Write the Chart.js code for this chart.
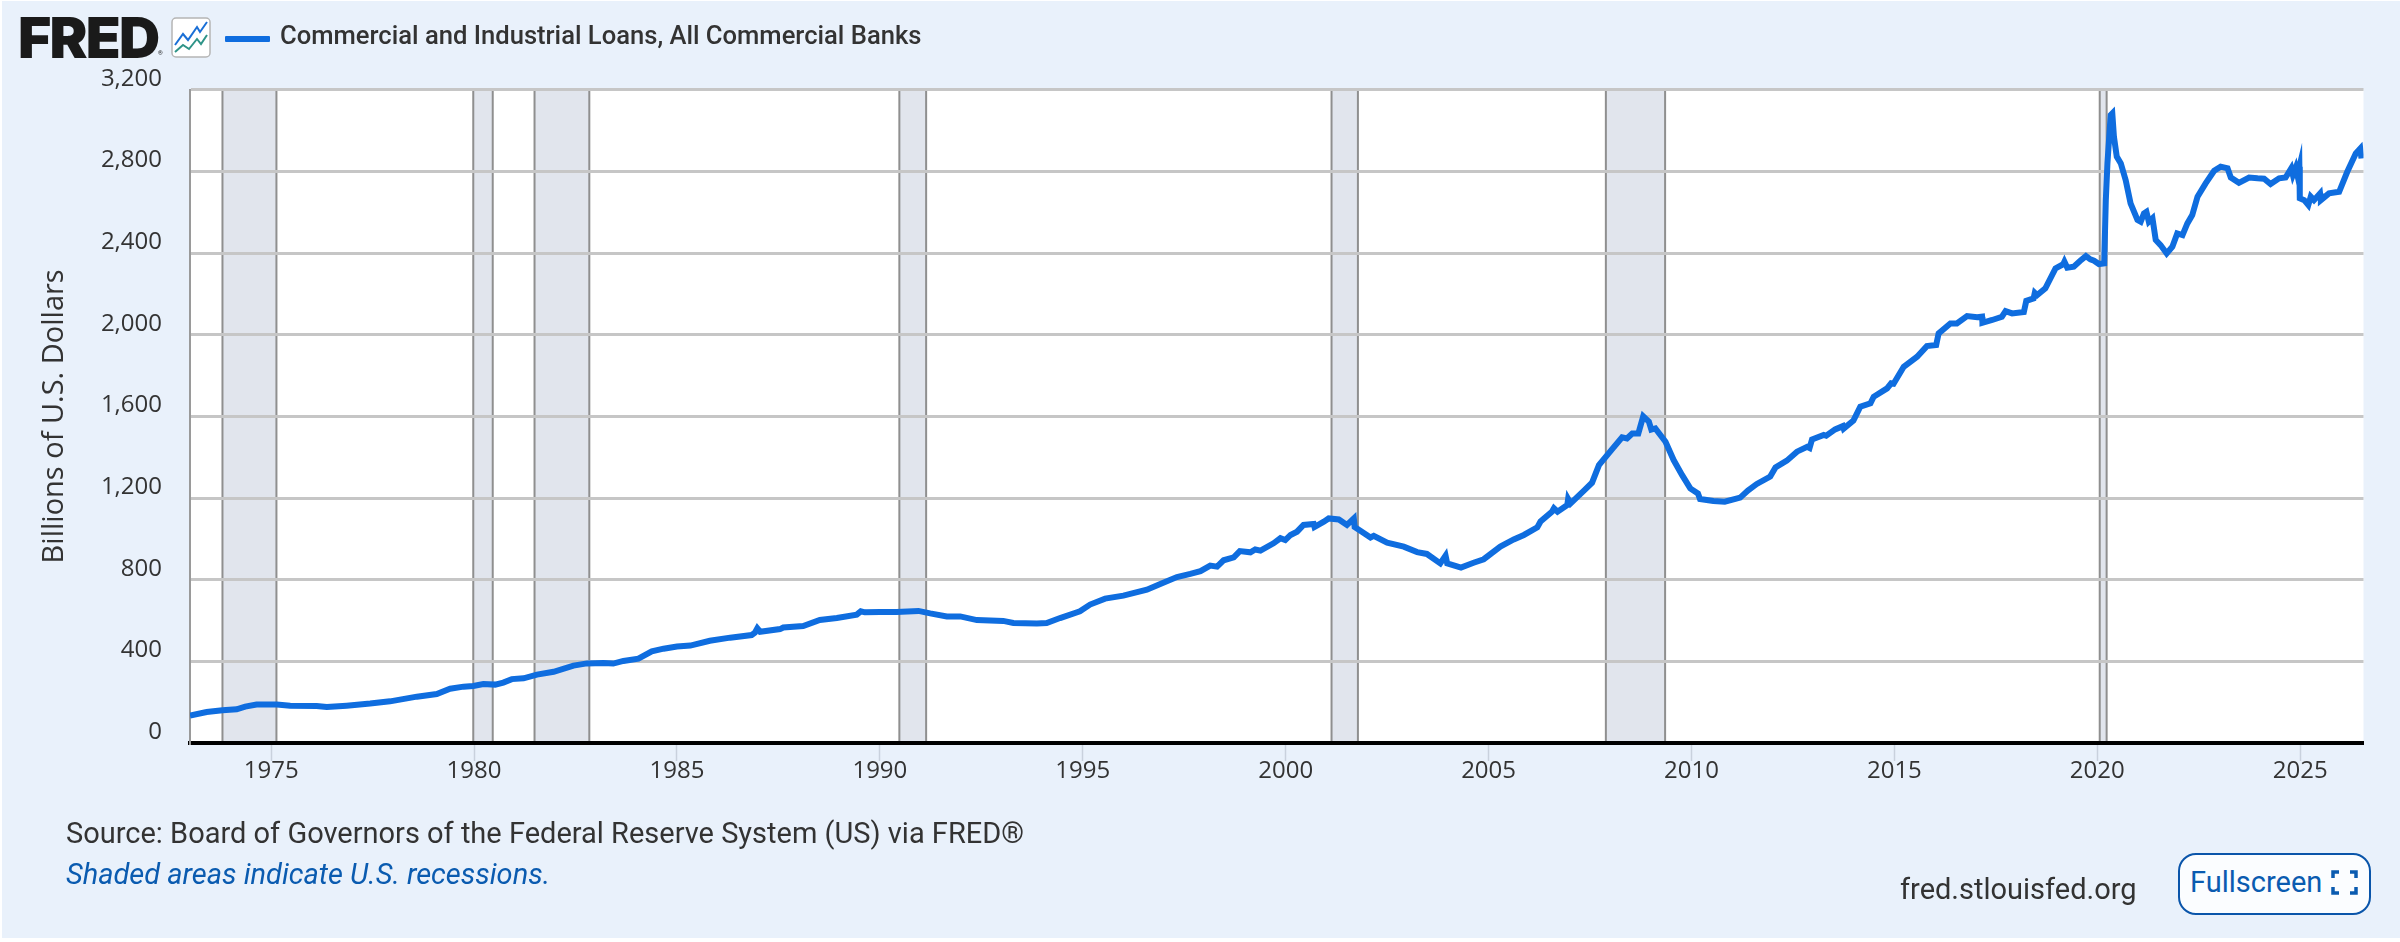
<!DOCTYPE html>
<html>
<head>
<meta charset="utf-8">
<title>Commercial and Industrial Loans, All Commercial Banks</title>
<script src="https://cdn.jsdelivr.net/npm/chart.js@4"></script>
<style>
  html, body { margin: 0; padding: 0; background: #fff; overflow: hidden; }
  #page { position: relative; width: 2400px; height: 942px; overflow: hidden; font-family: Roboto, sans-serif; }
  #bg { position: absolute; left: 2px; top: 1px; width: 2398px; height: 937px; background: #e9f1fb; }
  #myChart { position: absolute; left: 0; top: 0; }
  .txt { position: absolute; white-space: nowrap; line-height: 1; }
  #logo { left: 18px; top: 9px; font: 900 57px Inter, sans-serif; letter-spacing: -1.8px; color: #1a1a1a; line-height: 57px; }
  #reg { left: 158px; top: 50px; font-size: 6px; color: #1a1a1a; }
  #icon { position: absolute; left: 171px; top: 17px; }
  #legendLine { position: absolute; left: 225px; top: 36px; width: 45px; height: 6px; background: #0f6ddf; border-radius: 1px; }
  #legendText { left: 280px; top: 23px; font-size: 25.6px; font-weight: 500; color: #333; }
  #source { left: 66px; top: 819px; font-size: 29px; color: #333; }
  #shaded { left: 66px; top: 860px; font-size: 29px; font-style: italic; color: #0a5bb0; }
  #site { left: 1900px; top: 875px; font-size: 29px; color: #333; }
  #btn { position: absolute; left: 2178px; top: 853px; width: 189px; height: 58px; background: #fbfdff; border: 2px solid #0a55aa; border-radius: 18px; }
  #btnText { left: 2190px; top: 868px; font-size: 29px; color: #0a5bb0; }
  #btnIcon { position: absolute; left: 2331px; top: 870px; }
</style>
</head>
<body>
<div id="page">
  <div id="bg"></div>
  <canvas id="myChart" width="2400" height="942"></canvas>
  <div class="txt" id="logo">FRED</div>
  <div class="txt" id="reg">®</div>
  <svg id="icon" width="40" height="41" viewBox="0 0 40 41">
    <rect x="1" y="1" width="38" height="39" rx="4" fill="#fff" stroke="#b5b5b5" stroke-width="1.5"/>
    <polyline points="4,28 12,17 17,23 26,10 29,15 36,5" fill="none" stroke="#1a6fd6" stroke-width="2"/>
    <polyline points="4,35 12,28 18,32 26,22 30,27 36,18" fill="none" stroke="#2f9488" stroke-width="2"/>
  </svg>
  <div id="legendLine"></div>
  <div class="txt" id="legendText">Commercial and Industrial Loans, All Commercial Banks</div>
  <div class="txt" id="source">Source: Board of Governors of the Federal Reserve System (US) via FRED®</div>
  <div class="txt" id="shaded">Shaded areas indicate U.S. recessions.</div>
  <div class="txt" id="site">fred.stlouisfed.org</div>
  <div id="btn"></div>
  <div class="txt" id="btnText">Fullscreen</div>
  <svg id="btnIcon" width="27" height="25" viewBox="0 0 27 25">
    <path d="M2 8V2H8M19 2H25V8M25 17V23H19M8 23H2V17" fill="none" stroke="#0a5bb0" stroke-width="3.5"/>
  </svg>
</div>
<script>
// years as decimals, billions of dollars
const years = [
  1973.0, 1973.41, 1973.8, 1974.15, 1974.36, 1974.64, 1975.14, 1975.47, 1976.12, 1976.37, 1976.86, 1977.44,
  1977.93, 1978.59, 1979.08, 1979.41, 1979.74, 1979.98, 1980.23, 1980.52, 1980.72, 1980.93, 1981.22, 1981.55,
  1981.96, 1982.45, 1982.78, 1983.19, 1983.43, 1983.68, 1984.05, 1984.38, 1984.67, 1985.0, 1985.33, 1985.81,
  1986.31, 1986.84, 1986.92, 1986.98, 1987.05, 1987.54, 1987.62, 1988.11, 1988.52, 1988.94, 1989.43, 1989.53,
  1989.63, 1990.0, 1990.41, 1990.95, 1991.24, 1991.65, 1991.98, 1992.39, 1993.04, 1993.29, 1993.87, 1994.11,
  1994.44, 1994.93, 1995.18, 1995.55, 1996.0, 1996.58, 1996.91, 1997.32, 1997.65, 1997.9, 1998.14, 1998.31,
  1998.47, 1998.72, 1998.87, 1999.13, 1999.25, 1999.38, 1999.7, 1999.87, 1999.99, 2000.12, 2000.28, 2000.44,
  2000.69, 2000.71, 2000.94, 2001.06, 2001.31, 2001.51, 2001.68, 2001.7, 2001.84, 2002.09, 2002.17, 2002.5,
  2002.91, 2003.24, 2003.48, 2003.81, 2003.94, 2003.98, 2004.32, 2004.63, 2004.88, 2005.29, 2005.62, 2005.87,
  2006.2, 2006.28, 2006.56, 2006.61, 2006.7, 2006.94, 2006.96, 2007.02, 2007.35, 2007.55, 2007.72, 2008.04,
  2008.29, 2008.41, 2008.54, 2008.69, 2008.81, 2008.95, 2009.01, 2009.11, 2009.36, 2009.56, 2009.77, 2009.97,
  2010.16, 2010.21, 2010.54, 2010.82, 2011.2, 2011.39, 2011.61, 2011.94, 2012.07, 2012.35, 2012.6, 2012.85,
  2012.91, 2012.97, 2013.26, 2013.32, 2013.54, 2013.73, 2013.75, 2013.99, 2014.16, 2014.41, 2014.49, 2014.82,
  2014.92, 2014.98, 2015.23, 2015.56, 2015.8, 2016.03, 2016.09, 2016.38, 2016.54, 2016.79, 2017.04, 2017.16,
  2017.17, 2017.41, 2017.65, 2017.74, 2017.9, 2018.19, 2018.25, 2018.43, 2018.46, 2018.52, 2018.72, 2018.97,
  2019.16, 2019.19, 2019.26, 2019.42, 2019.58, 2019.72, 2019.83, 2019.92, 2020.04, 2020.17, 2020.21, 2020.25,
  2020.33, 2020.37, 2020.41, 2020.48, 2020.58, 2020.7, 2020.82, 2020.99, 2021.07, 2021.15, 2021.21, 2021.27,
  2021.36, 2021.44, 2021.56, 2021.71, 2021.85, 2021.97, 2022.1, 2022.22, 2022.34, 2022.47, 2022.67, 2022.88,
  2023.04, 2023.21, 2023.29, 2023.49, 2023.74, 2023.95, 2024.11, 2024.27, 2024.48, 2024.64, 2024.78, 2024.82,
  2024.89, 2024.93, 2024.98, 2024.99, 2025.1, 2025.2, 2025.26, 2025.34, 2025.49, 2025.51, 2025.71, 2025.96,
  2026.16, 2026.37, 2026.48, 2026.51
];
const loans = [
  134, 152, 160, 165, 178, 188, 189, 183, 181, 176, 183, 193,
  204, 227, 240, 266, 276, 279, 289, 286, 296, 313, 317, 335,
  349, 379, 390, 392, 389, 402, 413, 449, 462, 473, 477, 501,
  516, 529, 540, 562, 545, 558, 566, 573, 603, 612, 629, 645,
  640, 642, 642, 647, 635, 620, 620, 602, 598, 588, 585, 588,
  612, 645, 678, 707, 722, 751, 779, 813, 828, 842, 869, 864,
  895, 909, 940, 934, 948, 942, 978, 1003, 994, 1019, 1035, 1068,
  1073, 1058, 1084, 1100, 1095, 1068, 1100, 1058, 1040, 1007, 1015, 981,
  962, 935, 926, 880, 918, 880, 859, 883, 900, 962, 997, 1019,
  1056, 1085, 1133, 1150, 1133, 1166, 1195, 1174, 1236, 1275, 1361, 1438,
  1497, 1492, 1516, 1516, 1600, 1574, 1535, 1541, 1476, 1386, 1312, 1247,
  1222, 1195, 1185, 1182, 1202, 1237, 1269, 1305, 1350, 1383, 1427, 1451,
  1445, 1487, 1509, 1505, 1536, 1552, 1540, 1579, 1647, 1664, 1696, 1737,
  1762, 1760, 1843, 1892, 1944, 1949, 2006, 2055, 2055, 2091, 2085, 2088,
  2058, 2072, 2088, 2115, 2104, 2111, 2166, 2178, 2205, 2194, 2227, 2325,
  2345, 2358, 2328, 2333, 2362, 2385, 2369, 2362, 2346, 2349, 2659, 2839,
  3076, 3084, 2970, 2872, 2839, 2757, 2643, 2562, 2553, 2594, 2602, 2553,
  2570, 2464, 2439, 2398, 2431, 2496, 2488, 2545, 2586, 2676, 2741, 2803,
  2823, 2815, 2770, 2744, 2770, 2766, 2764, 2738, 2766, 2770, 2815, 2782,
  2818, 2782, 2823, 2668, 2659, 2635, 2676, 2659, 2692, 2659, 2692, 2700,
  2798, 2888, 2912, 2863
];

const recessionStarts = [1973.8, 1979.98, 1981.49, 1990.48, 2001.13, 2007.89, 2020.06];
const recessionEnds = [1975.13, 1980.46, 1982.84, 1991.14, 2001.78, 2009.35, 2020.23];

const xTicks = [1975, 1980, 1985, 1990, 1995, 2000, 2005, 2010, 2015, 2020, 2025];
const yTicks = [0, 400, 800, 1200, 1600, 2000, 2400, 2800, 3200];

const PLOT = { left: 190, right: 2363.5, top: 89.7, bottom: 743 };

// white plot background and recession bars, under the grid
const recessionBars = {
  id: 'recessionBars',
  beforeDraw(chart) {
    const { ctx, chartArea, scales } = chart;
    ctx.save();
    ctx.fillStyle = '#fff';
    ctx.fillRect(chartArea.left, chartArea.top, chartArea.width, chartArea.height);
    recessionStarts.forEach((start, i) => {
      const x0 = scales.x.getPixelForValue(start);
      const x1 = scales.x.getPixelForValue(recessionEnds[i]);
      ctx.fillStyle = '#e1e5ed';
      ctx.fillRect(x0, chartArea.top, x1 - x0, chartArea.height);
      ctx.fillStyle = '#8f8f8f';
      ctx.fillRect(x0 - 1, chartArea.top, 2, chartArea.height);
      ctx.fillRect(x1 - 1, chartArea.top, 2, chartArea.height);
    });
    ctx.restore();
  }
};

new Chart(document.getElementById('myChart').getContext('2d'), {
  type: 'line',
  data: {
    datasets: [{
      label: 'Commercial and Industrial Loans, All Commercial Banks',
      data: years.map((y, i) => ({ x: y, y: loans[i] })),
      borderColor: '#0f6ddf',
      borderWidth: 6,
      borderJoinStyle: 'miter',
      tension: 0,
      pointRadius: 0
    }]
  },
  options: {
    responsive: false,
    devicePixelRatio: 1,
    animation: false,
    layout: { padding: { left: 0, top: PLOT.top, right: 2400 - PLOT.right, bottom: 0 } },
    plugins: { legend: { display: false }, tooltip: { enabled: false } },
    scales: {
      x: {
        type: 'linear',
        min: 1973,
        max: 2026.56,
        afterBuildTicks: scale => { scale.ticks = xTicks.map(v => ({ value: v })); },
        afterFit: scale => { scale.height = 942 - PLOT.bottom; },
        border: { color: '#000', width: 4 },
        grid: { drawOnChartArea: false, drawTicks: true, tickLength: 18, tickColor: '#c9d1dd', tickWidth: 1.5 },
        ticks: {
          color: '#333',
          font: { family: 'Open Sans', size: 24 },
          maxRotation: 0,
          autoSkip: false,
          padding: -4,
          callback: v => String(v)
        }
      },
      y: {
        min: 0,
        max: 3200,
        afterBuildTicks: scale => { scale.ticks = yTicks.map(v => ({ value: v })); },
        afterFit: scale => { scale.width = PLOT.left; },
        border: { color: '#9a9a9a', width: 2 },
        grid: { color: '#c6c6c6', lineWidth: 3, drawTicks: false },
        title: {
          display: true,
          text: 'Billions of U.S. Dollars',
          color: '#333',
          font: { family: 'Open Sans', size: 29 },
          padding: { top: 37, bottom: 0 }
        },
        ticks: {
          color: '#333',
          font: { family: 'Open Sans', size: 24 },
          padding: 28,
          labelOffset: -11,
          callback: v => v.toLocaleString('en-US')
        }
      }
    }
  },
  plugins: [recessionBars]
});
</script>
</body>
</html>
